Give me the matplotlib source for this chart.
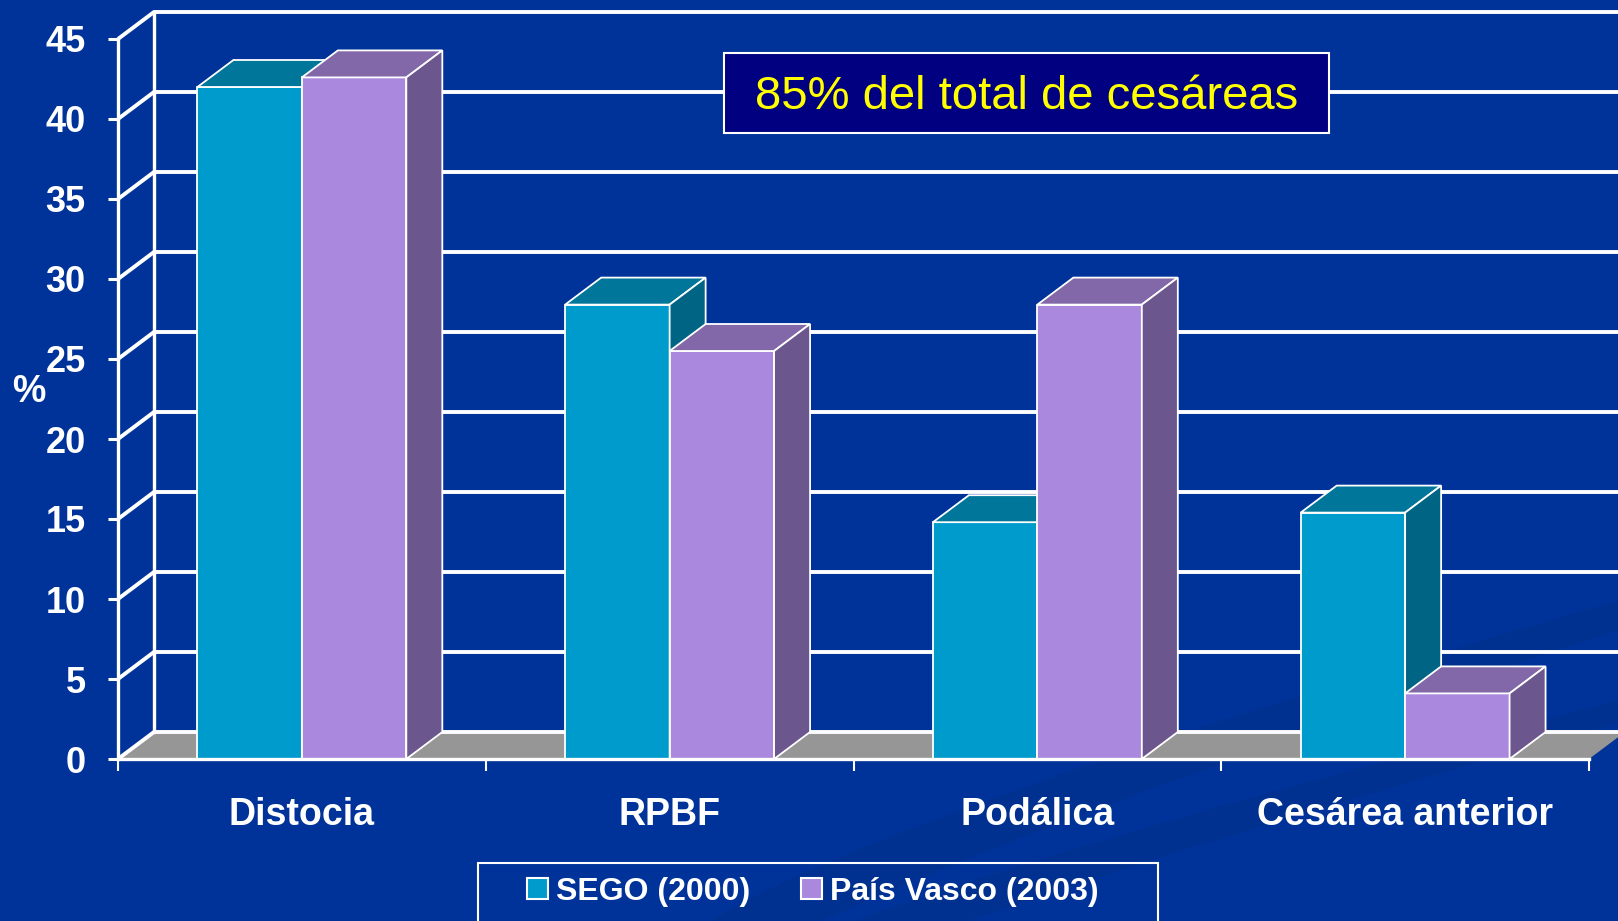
import matplotlib
matplotlib.use("Agg")
import numpy as np
import matplotlib.pyplot as plt
from matplotlib.patches import Polygon, Rectangle, Patch

# Datos
categories = ["Distocia", "RPBF", "Podálica", "Cesárea anterior"]
series_names = ["SEGO (2000)", "País Vasco (2003)"]
sego_2000 = [42.0, 28.4, 14.8, 15.4]
pais_vasco_2003 = [42.6, 25.5, 28.4, 4.1]
y_ticks = [0, 5, 10, 15, 20, 25, 30, 35, 40, 45]
note_text = "85% del total de cesáreas"

# Estilo
BG = "#003399"
SWOOSH = "#002E8A"
FLOOR = "#969696"
front_colors = ["#009BCD", "#AA88DE"]
top_colors = ["#00779A", "#8268A8"]
side_colors = ["#006585", "#6B568E"]

plt.rcParams["font.family"] = ["Liberation Sans", "DejaVu Sans"]

W, H = 1618, 921
fig = plt.figure(figsize=(W / 100, H / 100), dpi=100, facecolor=BG)

# faint background swooshes (slide decoration, lower right)
bg = fig.add_axes([0, 0, 1, 1], zorder=-1)
bg.set_xlim(0, W)
bg.set_ylim(H, 0)
bg.axis("off")
t = np.linspace(0, 1, 60)
for y_start, y_end, thick in [(930, 600, 60), (990, 700, 45)]:
    xs = 700 + t * (W - 700)
    ys = y_start + (y_end - y_start) * t ** 0.8
    bg.fill_between(xs, ys, ys + thick * (1 - 0.5 * t), color=SWOOSH,
                    alpha=0.6, lw=0)

# front plane of the 3D box, in pixels
left_px, right_px, top_px, base_px = 118, 1589, 39, 759
ax = fig.add_axes([left_px / W, 1 - base_px / H,
                   (right_px - left_px) / W, (base_px - top_px) / H])
ax.set_xlim(-0.5, len(categories) - 0.5)
ax.set_ylim(0, 45)
ax.patch.set_visible(False)

# depth of the pseudo-3D effect (36 px right, 27 px up) in data units
DX = 36 * len(categories) / (right_px - left_px)
DY = 27 * 45 / (base_px - top_px)
x0, x1 = -0.5, len(categories) - 0.5

# floor
ax.add_patch(Polygon([(x0, 0), (x0 + DX, DY), (x1 + DX, DY), (x1, 0)],
                     closed=True, fc=FLOOR, ec="none", zorder=1, clip_on=False))

# walls: diagonal on the left wall + horizontal line on the back wall
for y in y_ticks:
    ax.plot([x0, x0 + DX, x1 + DX + 0.2], [y, y + DY, y + DY], color="white",
            lw=2.8, zorder=2, clip_on=False, solid_capstyle="butt")
ax.plot([x0 + DX, x0 + DX], [DY, 45 + DY], color="white", lw=2.4,
        zorder=2, clip_on=False)

# bars
bar_w = 0.284
for j, vals in enumerate([sego_2000, pais_vasco_2003]):
    xs = [i - bar_w + j * bar_w for i in range(len(categories))]
    ax.bar(xs, vals, bar_w, align="edge", color=front_colors[j],
           edgecolor="white", lw=1.3, zorder=3 + 2 * j, clip_on=False)
    for x, v in zip(xs, vals):
        top = [(x, v), (x + DX, v + DY), (x + bar_w + DX, v + DY), (x + bar_w, v)]
        side = [(x + bar_w, 0), (x + bar_w + DX, DY),
                (x + bar_w + DX, v + DY), (x + bar_w, v)]
        ax.add_patch(Polygon(top, closed=True, fc=top_colors[j], ec="white",
                             lw=1.3, zorder=4 + 2 * j, clip_on=False))
        ax.add_patch(Polygon(side, closed=True, fc=side_colors[j], ec="white",
                             lw=1.3, zorder=4 + 2 * j, clip_on=False))

# axes, ticks, labels
for s in ["top", "right"]:
    ax.spines[s].set_visible(False)
for s in ["left", "bottom"]:
    ax.spines[s].set_color("white")
    ax.spines[s].set_linewidth(2.4)
    ax.spines[s].set_zorder(9)

ax.set_yticks(y_ticks, [str(v) for v in y_ticks], fontweight="bold")
ax.tick_params(axis="y", colors="white", length=7.2, width=2.2, pad=16,
               labelsize=26)
ax.set_xticks(range(len(categories)), categories, fontweight="bold")
ax.set_xticks([i - 0.5 for i in range(len(categories) + 1)], minor=True)
ax.tick_params(axis="x", which="major", length=0, pad=27, labelsize=27,
               labelcolor="white")
ax.tick_params(axis="x", which="minor", length=8.6, width=1.5, color="white")

ax.set_ylabel("%", rotation=0, color="white", fontsize=27, fontweight="bold",
              va="center", ha="center")
ax.yaxis.set_label_coords((29 - left_px) / (right_px - left_px),
                          (base_px - 392) / (base_px - top_px))

# note box
fig.patches.append(Rectangle((724 / W, 1 - 133 / H), 605 / W, 80 / H,
                             transform=fig.transFigure, fc="#000080",
                             ec="white", lw=1.5, zorder=10))
fig.text(1026.5 / W, 1 - 97 / H, note_text, color="#FFFF00", fontsize=34,
         ha="center", va="center", zorder=11)

# legend
fig.patches.append(Rectangle((478 / W, -0.05), 680 / W, 1 - 863 / H + 0.05,
                             transform=fig.transFigure, fc="none",
                             ec="white", lw=1.5, zorder=10))
handles = [Patch(fc=front_colors[j], ec="white", lw=1.5) for j in range(2)]
leg = fig.legend(handles, series_names, loc="center left",
                 bbox_to_anchor=(527 / W, 1 - 892 / H), ncol=2, frameon=False,
                 prop={"size": 23, "weight": "bold"}, labelcolor="white",
                 handlelength=0.65, handleheight=0.65, handletextpad=0.25,
                 columnspacing=1.6, borderpad=0, borderaxespad=0)

fig.savefig("out.png", dpi=100, facecolor=BG)
